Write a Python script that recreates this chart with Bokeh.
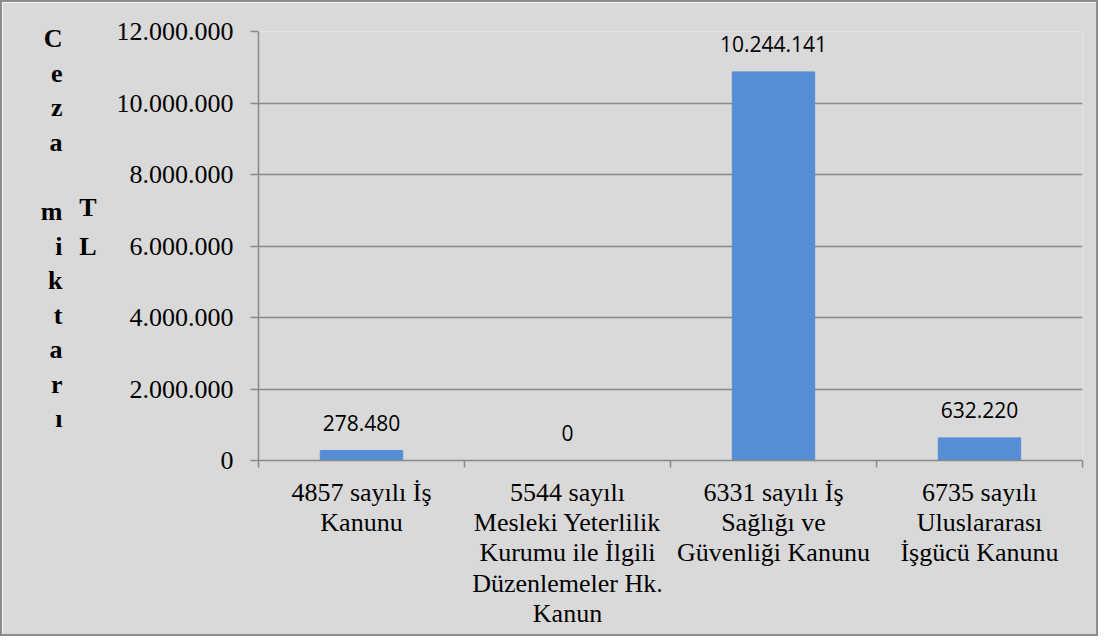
from bokeh.plotting import figure
from bokeh.models import Range1d, FixedTicker, LinearAxis, ColumnDataSource
from bokeh.core.properties import value
from bokeh.embed import file_html
from bokeh.resources import INLINE

# ---- data ----
categories = [
    "4857 sayılı İş\nKanunu",
    "5544 sayılı\nMesleki Yeterlilik\nKurumu ile İlgili\nDüzenlemeler Hk.\nKanun",
    "6331 sayılı İş\nSağlığı ve\nGüvenliği Kanunu",
    "6735 sayılı\nUluslararası\nİşgücü Kanunu",
]
bar_values = [278480, 0, 10870000, 632220]   # bar heights as drawn in the picture
value_labels = ["278.480", "0", "10.244.141", "632.220"]
y_ticks = [0, 2000000, 4000000, 6000000, 8000000, 10000000, 12000000]
y_tick_labels = ["0", "2.000.000", "4.000.000", "6.000.000", "8.000.000", "10.000.000", "12.000.000"]
y_title_main = "Ceza miktarı"
y_title_unit = "TL"

BG = "#d9d9d9"
GRAY = "#898989"
BAR = "#558ed5"

xs = [i + 0.5 for i in range(len(categories))]
src = ColumnDataSource(dict(x=xs, top=bar_values, label=value_labels))

p = figure(width=1098, height=636, output_backend="svg", toolbar_location=None,
           x_range=Range1d(0, len(categories)), y_range=Range1d(0, 12000000),
           min_border_left=256, min_border_right=18, min_border_top=29, min_border_bottom=178)
p.background_fill_color = BG
p.border_fill_color = BG
p.outline_line_color = None
p.styles = {"border": "2px solid #8c8c8c"}

p.vbar(x="x", top="top", width=0.4, source=src, fill_color=BAR, line_color=BAR)
p.text(x="x", y="top", text="label", source=src, text_align="center", text_baseline="middle",
       y_offset=-28, text_font=value("Open Sans"), text_font_size="21px", text_color="black")

# x axis
p.xaxis.ticker = FixedTicker(ticks=xs, minor_ticks=list(range(len(categories) + 1)))
p.xaxis.major_label_overrides = {x: c for x, c in zip(xs, categories)}
p.xaxis.major_tick_out = 0
p.xaxis.major_tick_in = 0
p.xaxis.minor_tick_out = 7
p.xaxis.minor_tick_in = 0
p.xaxis.minor_tick_line_color = GRAY
p.xaxis.minor_tick_line_width = 1.5
p.xaxis.axis_line_color = GRAY
p.xaxis.axis_line_width = 1.5
p.xaxis.major_label_text_font = "Liberation Serif"
p.xaxis.major_label_text_font_size = "26px"
p.xaxis.major_label_text_color = "black"
p.xaxis.major_label_standoff = 10
p.xaxis.major_label_text_line_height = 1.05
p.xgrid.visible = False

# y axis
p.yaxis.ticker = FixedTicker(ticks=y_ticks, minor_ticks=[])
p.yaxis.major_label_overrides = {t: l for t, l in zip(y_ticks, y_tick_labels)}
p.yaxis.major_tick_out = 8
p.yaxis.major_tick_in = 0
p.yaxis.major_tick_line_color = GRAY
p.yaxis.major_tick_line_width = 1.5
p.yaxis.minor_tick_line_color = None
p.yaxis.axis_line_color = GRAY
p.yaxis.axis_line_width = 1.5
p.yaxis.major_label_text_font = "Liberation Serif"
p.yaxis.major_label_text_font_size = "26px"
p.yaxis.major_label_text_color = "black"
p.yaxis.major_label_standoff = 17
p.ygrid.ticker = FixedTicker(ticks=y_ticks)
p.ygrid.grid_line_color = GRAY
p.ygrid.grid_line_width = 1.5


def title_axis(text, standoff, line_height):
    ax = LinearAxis(ticker=FixedTicker(ticks=[]), axis_label=text,
                    axis_label_orientation="horizontal", axis_label_standoff=standoff,
                    axis_label_text_font="Liberation Serif", axis_label_text_font_style="bold",
                    axis_label_text_font_size="26px", axis_label_text_line_height=line_height,
                    axis_label_text_color="black", axis_line_color=None,
                    major_tick_line_color=None, minor_tick_line_color=None,
                    major_tick_out=0, major_tick_in=0, minor_tick_out=0, minor_tick_in=0,
                    major_label_standoff=0, major_label_text_font_size="0px")
    return ax


# stacked y-axis title (two stacked columns, as in the reference)
unit_stack = "\n".join(list(y_title_unit) + [" "])
main_stack = "\n".join([(" " if ch == " " else ch) for ch in y_title_main] + [" "])
p.add_layout(title_axis(unit_stack, 17, 1.33), "left")
p.add_layout(title_axis(main_stack, 14, 1.19), "left")

open("out.html", "w").write(file_html(p, INLINE))
